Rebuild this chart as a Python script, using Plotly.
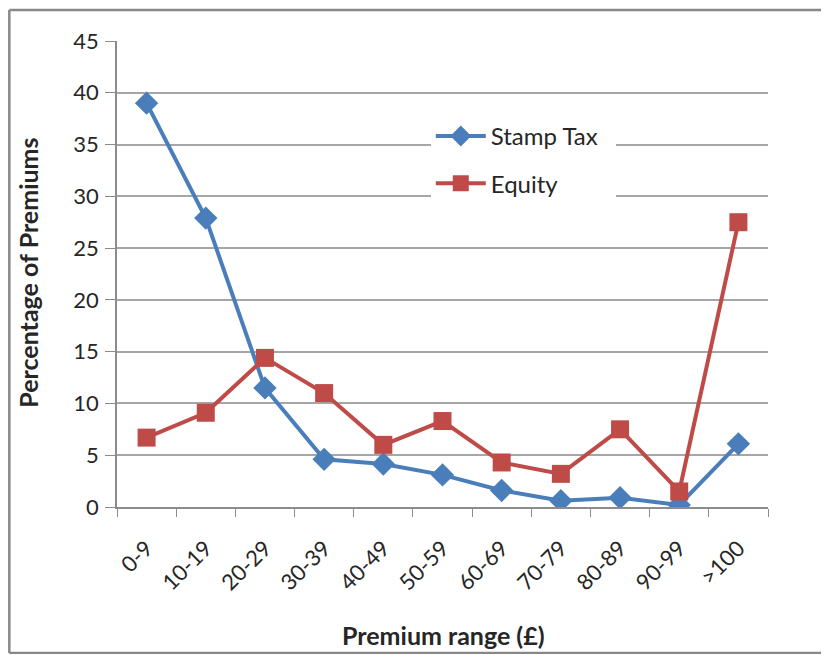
import plotly.graph_objects as go

categories = ["0-9", "10-19", "20-29", "30-39", "40-49", "50-59", "60-69", "70-79", "80-89", "90-99", ">100"]
stamp_tax = [39.0, 27.9, 11.5, 4.6, 4.15, 3.1, 1.6, 0.6, 0.9, 0.2, 6.1]
equity = [6.7, 9.1, 14.4, 11.0, 6.0, 8.3, 4.3, 3.2, 7.5, 1.5, 27.5]
y_ticks = [0, 5, 10, 15, 20, 25, 30, 35, 40, 45]

FONT = "Lato, 'Open Sans', sans-serif"
AXIS_GREY = "#8C8C8C"
FRAME = dict(color="#888888", width=2.5)

fig = go.Figure()
fig.add_trace(go.Scatter(
    x=categories, y=stamp_tax, name="Stamp Tax\u00a0\u00a0", mode="lines+markers",
    line=dict(color="#4A7EBB", width=4),
    marker=dict(symbol="diamond", size=18, color="#4A7EBB"),
    legendgroup="a",
))
fig.add_trace(go.Scatter(
    x=categories, y=equity, name="Equity", mode="lines+markers",
    line=dict(color="#BE4B48", width=4),
    marker=dict(symbol="square", size=18, color="#BE4B48"),
    legendgroup="b",
))

fig.update_layout(
    width=820, height=646,
    margin=dict(l=109, r=60, t=33, b=147),
    paper_bgcolor="white", plot_bgcolor="white",
    font=dict(family=FONT, size=22, color="#262626"),
    showlegend=True,
    legend=dict(
        x=0.482, y=0.8436, xanchor="left", yanchor="top",
        bgcolor="white", font=dict(size=24),
        tracegroupgap=13, itemwidth=50,
    ),
    xaxis=dict(
        type="category", categoryorder="array", categoryarray=categories,
        tickangle=-45, ticks="outside", tickson="boundaries", ticklen=8,
        tickcolor=AXIS_GREY, showline=True, linecolor=AXIS_GREY, linewidth=1.5,
        showgrid=False, tickfont=dict(size=22), ticklabelstandoff=18,
        range=[-0.5, 10.5],
    ),
    yaxis=dict(
        range=[0, 45], tickvals=y_ticks, ticks="outside", ticklen=10,
        tickcolor=AXIS_GREY, showline=True, linecolor=AXIS_GREY, linewidth=1.5,
        showgrid=True, gridcolor="#A6A6A6", gridwidth=1.8, zeroline=False,
        tickfont=dict(size=22), ticklabelstandoff=2,
    ),
    annotations=[
        dict(text="<b>Premium range (£)</b>", xref="paper", yref="paper",
             x=0.501, y=-0.2747, xanchor="center", yanchor="middle",
             showarrow=False, font=dict(size=25)),
        dict(text="<b>Percentage of Premiums</b>", xref="paper", yref="paper",
             x=-0.1366, y=0.503, xanchor="center", yanchor="middle",
             textangle=-90, showarrow=False, font=dict(size=25)),
    ],
    shapes=[
        dict(type="line", xref="paper", yref="paper", x0=-0.1654, x1=-0.1654,
             y0=-0.3133, y1=1.0665, line=FRAME, layer="below"),
        dict(type="line", xref="paper", yref="paper", x0=-0.1654, x1=1.3,
             y0=1.0665, y1=1.0665, line=FRAME, layer="below"),
        dict(type="line", xref="paper", yref="paper", x0=-0.1654, x1=1.3,
             y0=-0.3133, y1=-0.3133, line=FRAME, layer="below"),
    ],
)

fig.write_html("out.html")
